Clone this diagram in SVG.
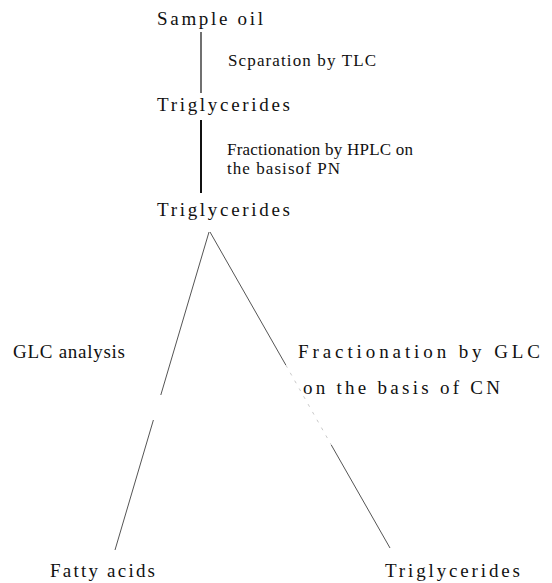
<svg xmlns="http://www.w3.org/2000/svg" width="552" height="583" viewBox="0 0 552 583">
<style>
.t{font-family:"Liberation Serif","Times New Roman",serif;font-size:17px;fill:#111}
.n{font-family:"Liberation Serif","Times New Roman",serif;font-size:19px;fill:#111}
.v{stroke:#111;fill:none}
.d{stroke:#555;stroke-width:1;fill:none}
.f{stroke:#bbb;stroke-width:0.8;fill:none;stroke-dasharray:3 6}
</style>
<rect width="552" height="583" fill="#fff"/>
<g id="connectors">
<line class="v" stroke-width="1.2" x1="201" y1="32" x2="201" y2="93"/>
<line class="v" stroke-width="2" x1="201" y1="120" x2="201" y2="193"/>
<line class="d" x1="209" y1="232" x2="160.8" y2="395"/>
<line class="d" x1="153.4" y1="420" x2="115" y2="550"/>
<line class="d" x1="210" y1="232" x2="285.8" y2="365"/>
<line class="f" x1="285.8" y1="365" x2="331.3" y2="445"/>
<line class="d" x1="331.3" y1="445" x2="390" y2="548"/>
</g>
<g id="sample-oil"><text class="n" x="157" y="25" textLength="106" lengthAdjust="spacing">Sample oil</text></g>
<g id="label-tlc"><text class="t" x="228" y="66" textLength="148" lengthAdjust="spacing">Scparation by TLC</text></g>
<g id="triglycerides-1"><text class="n" x="157" y="111" textLength="133" lengthAdjust="spacing">Triglycerides</text></g>
<g id="label-hplc">
<text class="t" x="227" y="155" textLength="186" lengthAdjust="spacing">Fractionation by HPLC on</text>
<text class="t" x="227" y="174" textLength="113" lengthAdjust="spacing">the basisof PN</text>
</g>
<g id="triglycerides-2"><text class="n" x="157" y="216" textLength="133" lengthAdjust="spacing">Triglycerides</text></g>
<g id="label-glc-analysis"><text class="n" x="13" y="358" textLength="112" lengthAdjust="spacing">GLC analysis</text></g>
<g id="label-glc-fractionation">
<text class="n" x="298" y="358" textLength="242" lengthAdjust="spacing">Fractionation by GLC</text>
<text class="n" x="303" y="394" textLength="197" lengthAdjust="spacing">on the basis of CN</text>
</g>
<g id="fatty-acids"><text class="n" x="50" y="577" textLength="105" lengthAdjust="spacing">Fatty acids</text></g>
<g id="triglycerides-3"><text class="n" x="385" y="577" textLength="135" lengthAdjust="spacing">Triglycerides</text></g>
</svg>
